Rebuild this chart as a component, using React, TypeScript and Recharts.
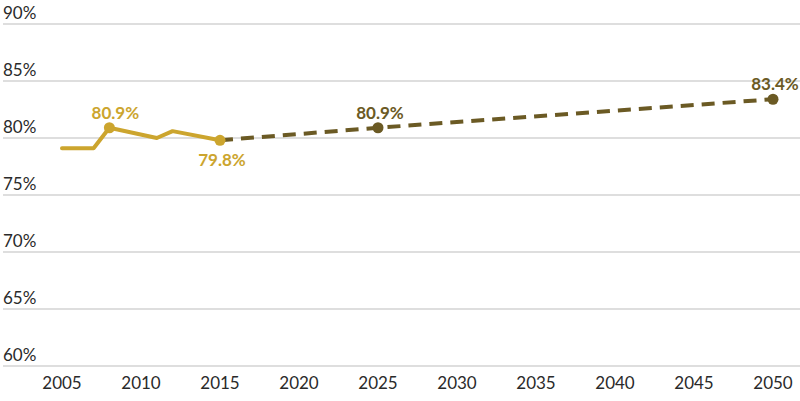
// Tasa proyectada: tramo histórico (sólido, dorado) y proyección (discontinua, oliva).
import { CartesianGrid, ComposedChart, LabelList, Line, Scatter, XAxis, YAxis } from 'recharts';

const histYears = [2005, 2007, 2008, 2011, 2012, 2015];
const histValues = [79.1, 79.1, 80.9, 80.0, 80.6, 79.8];
const projYears = [2015, 2025, 2050];
const projValues = [79.8, 80.9, 83.4];
const histMarkYears = [2008, 2015];
const histMarkValues = [80.9, 79.8];
const projMarkYears = [2025, 2050];
const projMarkValues = [80.9, 83.4];
const xTicks = [2005, 2010, 2015, 2020, 2025, 2030, 2035, 2040, 2045, 2050];
const yTicks = [60, 65, 70, 75, 80, 85, 90];

const GOLD = '#cca52e';
const OLIVE = '#6b5a24';
const FONT = 'Lato, "Open Sans", sans-serif';

const hist = histYears.map((year, i) => ({ year, value: histValues[i] }));
const proj = projYears.map((year, i) => ({ year, value: projValues[i] }));
const histMarks = histMarkYears.map((year, i) => ({ year, value: histMarkValues[i], below: year === 2015 }));
const projMarks = projMarkYears.map((year, i) => ({ year, value: projMarkValues[i], below: false }));

function YTick({ y, payload }: any) {
  return (
    <text x={3} y={y - 5} fontSize={17} fill="#2a2a2a" fontFamily={FONT} textAnchor="start">
      {payload.value}%
    </text>
  );
}

function XTick({ x, y, payload }: any) {
  return (
    <text x={x} y={y + 15} fontSize={17} fill="#2a2a2a" fontFamily={FONT} textAnchor="middle">
      {payload.value}
    </text>
  );
}

const markLabel = (color: string, data: any[]) => (props: any) => {
  const { x, y, width, height, index } = props;
  const d = data[index];
  const cx = x + (width || 0) / 2;
  const cy = y + (height || 0) / 2;
  const dx = d.year === 2008 ? 6 : 2;
  return (
    <text x={cx + dx} y={d.below ? cy + 26 : cy - 9} fontSize={17} fontWeight={700} fill={color} fontFamily={FONT} textAnchor="middle">
      {d.value.toFixed(1)}%
    </text>
  );
};

export default function App() {
  return (
    <div style={{ width: 800, height: 401, position: 'absolute', left: 0, top: 0, background: '#fff' }}>
      <ComposedChart width={800} height={401} margin={{ top: 24, right: 0, left: -37, bottom: 0 }}>
        <CartesianGrid vertical={false} stroke="#bdbdbd" strokeWidth={1} />
        <XAxis
          type="number"
          dataKey="year"
          domain={[2005, 2050]}
          ticks={xTicks}
          padding={{ left: 59, right: 27 }}
          tick={<XTick />}
          tickLine={false}
          axisLine={false}
          height={35}
          interval={0}
        />
        <YAxis
          type="number"
          domain={[60, 90]}
          ticks={yTicks}
          tick={<YTick />}
          tickLine={false}
          axisLine={false}
          width={40}
          interval={0}
        />
        <Line data={proj} dataKey="value" type="linear" stroke={OLIVE} strokeWidth={4} strokeDasharray="13 8" dot={false} isAnimationActive={false} />
        <Line data={hist} dataKey="value" type="linear" stroke={GOLD} strokeWidth={4} strokeLinejoin="round" strokeLinecap="round" dot={false} isAnimationActive={false} />
        <Scatter data={histMarks} dataKey="value" fill={GOLD} shape={(p: any) => <circle cx={p.cx} cy={p.cy} r={5.5} fill={GOLD} />} isAnimationActive={false}>
          <LabelList dataKey="value" content={markLabel(GOLD, histMarks)} />
        </Scatter>
        <Scatter data={projMarks} dataKey="value" fill={OLIVE} shape={(p: any) => <circle cx={p.cx} cy={p.cy} r={5.5} fill={OLIVE} />} isAnimationActive={false}>
          <LabelList dataKey="value" content={markLabel(OLIVE, projMarks)} />
        </Scatter>
      </ComposedChart>
    </div>
  );
}
